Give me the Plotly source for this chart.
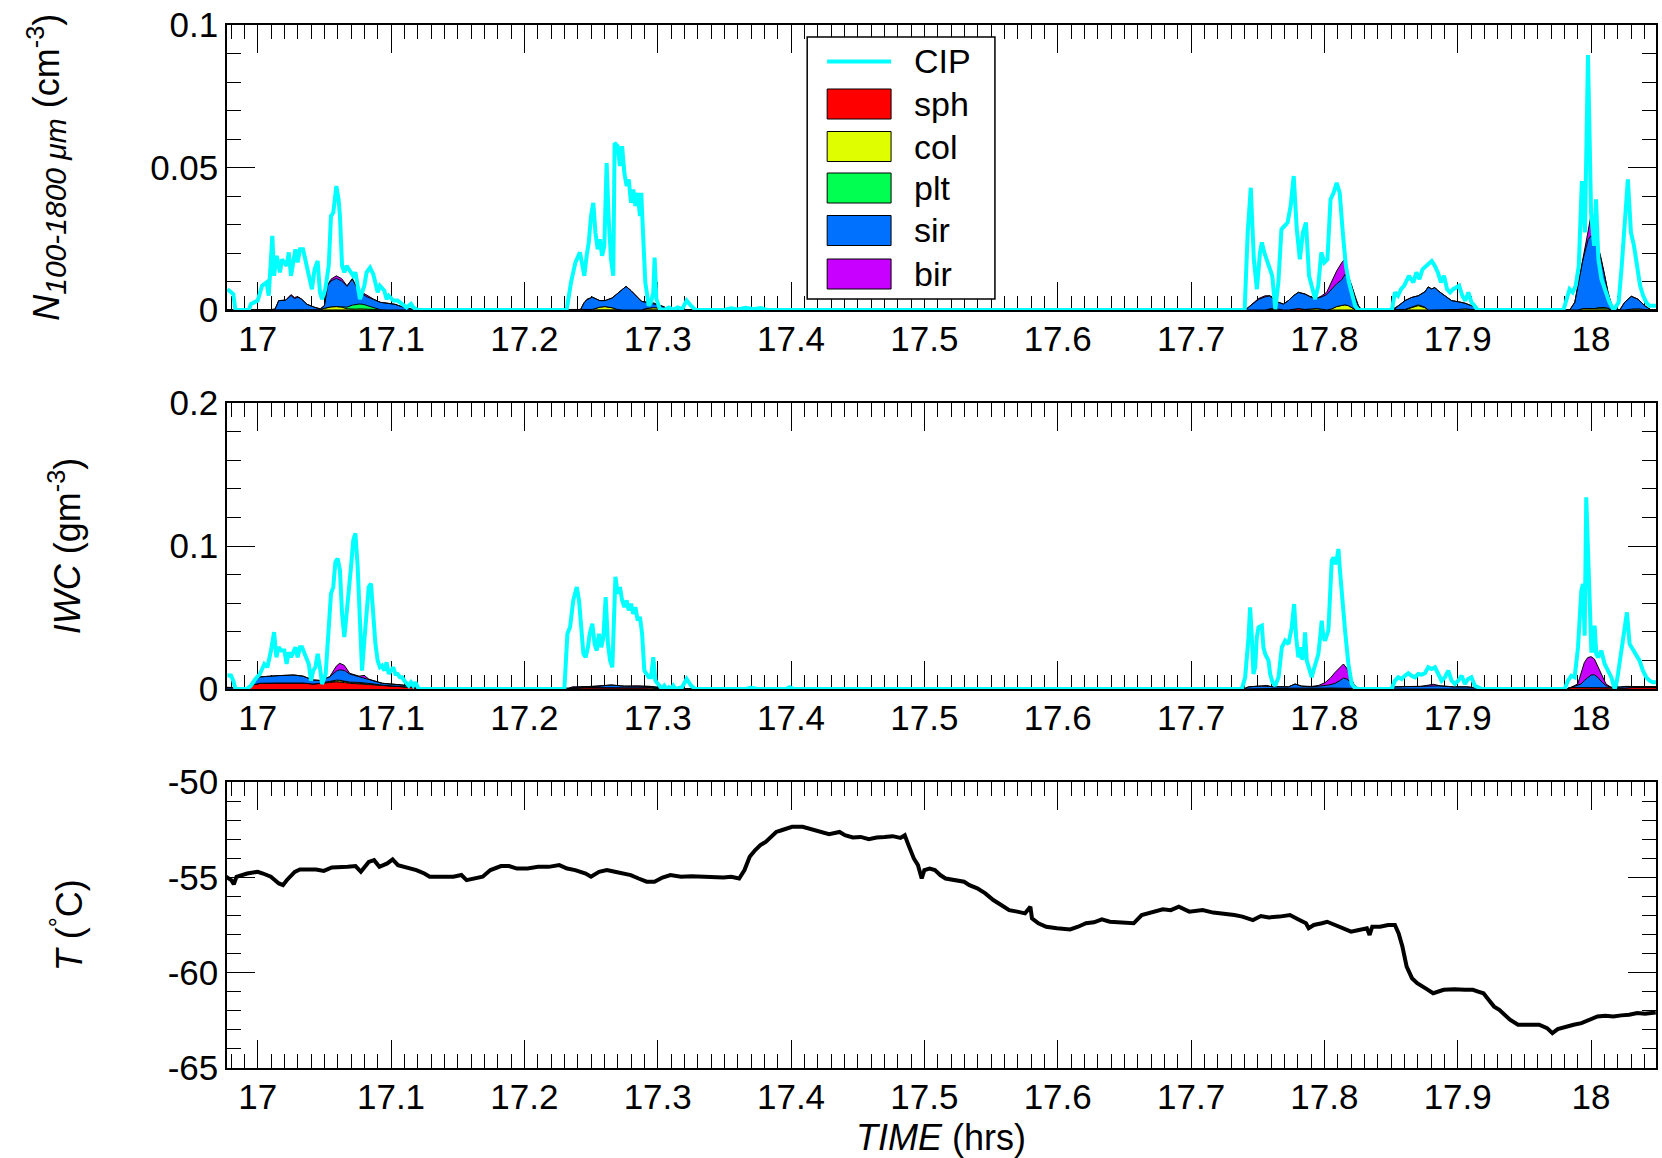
import plotly.graph_objects as go

# ---------------- time axis ----------------
T_START, T_END = 16.977, 18.0487

# ---------------- CIP number concentration N(100-1800 um), cm^-3 ----------------
N_CIP_TIME = [
    16.9773, 16.98, 16.9817, 16.9833, 16.9933, 16.995, 17.0, 17.0033, 17.0067, 17.0083,
    17.011, 17.0123, 17.0143, 17.0167, 17.0183, 17.0217, 17.0233, 17.025, 17.0283, 17.03,
    17.0317, 17.034, 17.036, 17.0383, 17.0407, 17.0427, 17.045, 17.0467, 17.0483, 17.0507,
    17.0533, 17.055, 17.0567, 17.059, 17.0607, 17.0617, 17.0633, 17.065, 17.0667, 17.0683,
    17.0717, 17.0733, 17.075, 17.0767, 17.0783, 17.08, 17.0817, 17.0843, 17.0867, 17.0883,
    17.09, 17.0917, 17.095, 17.0967, 17.0983, 17.1017, 17.105, 17.1083, 17.1117, 17.115,
    17.1167, 17.12,
    17.2317, 17.235, 17.2383, 17.2417, 17.2433, 17.245, 17.2467, 17.2483, 17.25, 17.2517,
    17.2533, 17.255, 17.2567, 17.2583, 17.26, 17.2617, 17.2633, 17.265, 17.2667, 17.2677,
    17.27, 17.2717, 17.2733, 17.275, 17.2767, 17.2783, 17.28, 17.2817, 17.2833, 17.285,
    17.2867, 17.2877, 17.289, 17.2907, 17.2933, 17.295, 17.2967, 17.2977, 17.299, 17.3017,
    17.305, 17.3083, 17.3117, 17.315, 17.3183, 17.3217, 17.325, 17.3283,
    17.35, 17.355, 17.36, 17.366, 17.372, 17.377, 17.382,
    17.7402, 17.7425, 17.7448, 17.7471, 17.7494, 17.7517, 17.7531, 17.7549, 17.7577, 17.7609,
    17.7632, 17.7655, 17.7678, 17.7701, 17.7724, 17.7747, 17.777, 17.7793, 17.7816, 17.7839,
    17.7862, 17.7885, 17.7908, 17.7931, 17.7954, 17.7977, 17.8, 17.8023, 17.8046, 17.8069,
    17.8092, 17.8115, 17.8138, 17.8161, 17.8184, 17.8207, 17.823, 17.8253,
    17.8506, 17.8529, 17.8552, 17.8575, 17.8598, 17.8634, 17.8667, 17.869, 17.8713, 17.8736,
    17.8782, 17.8805, 17.8828, 17.8851, 17.8874, 17.8897, 17.892, 17.8943, 17.8966, 17.9011,
    17.9034, 17.9057, 17.908, 17.9103, 17.9126, 17.9149,
    17.9793, 17.9816, 17.9839, 17.9862, 17.9885, 17.9908, 17.9931, 17.9954, 17.9977, 18.0,
    18.0023, 18.0037, 18.0055, 18.0078, 18.0106, 18.0138, 18.017, 18.0207, 18.023, 18.0253,
    18.0276, 18.0299, 18.0322, 18.0345, 18.0368, 18.0391, 18.0414, 18.0437, 18.0487,
]
N_CIP = [
    0.0073, 0.0062, 0.0056, 0.0, 0.0, 0.0021, 0.0033, 0.0085, 0.0097, 0.005,
    0.026, 0.012, 0.019, 0.0132, 0.0178, 0.0155, 0.0202, 0.012, 0.0213, 0.0167,
    0.0213, 0.0213, 0.0167, 0.012, 0.0073, 0.0143, 0.0172, 0.0062, 0.0038, 0.0073,
    0.0155, 0.033, 0.0341, 0.0435, 0.0388, 0.033, 0.0155, 0.0132, 0.0155, 0.0143,
    0.012, 0.0132, 0.0073, 0.0038, 0.0062, 0.0085, 0.0132, 0.0149, 0.0126, 0.0097,
    0.0062, 0.0085, 0.0068, 0.0038, 0.005, 0.0033, 0.0033, 0.0021, 0.0009, 0.0021,
    0.0009, 0.0,
    0.0, 0.0097, 0.0167, 0.0202, 0.0155, 0.012, 0.019, 0.0237, 0.033, 0.0376,
    0.0272, 0.0213, 0.0248, 0.019, 0.0225, 0.0516, 0.0318, 0.0178, 0.012, 0.0586,
    0.0575, 0.0505, 0.0575, 0.0481, 0.0435, 0.0458, 0.0376, 0.0423, 0.0365, 0.0411,
    0.033, 0.0411, 0.0272, 0.0097, 0.0015, 0.0027, 0.0062, 0.0184, 0.0038, 0.0003,
    0.0, 0.0009, 0.0001, 0.0009, 0.0003, 0.0033, 0.0015, 0.0,
    0.0, 0.0006, 0.0002, 0.0008, 0.0003, 0.0007, 0.0,
    0.0, 0.0272, 0.0429, 0.0178, 0.0073, 0.0202, 0.0237, 0.0202, 0.0167, 0.012,
    0.0003, 0.0097, 0.0283, 0.0295, 0.0307, 0.0365, 0.047, 0.0283, 0.0178, 0.0272,
    0.0307, 0.012, 0.0073, 0.0038, 0.0085, 0.0202, 0.0167, 0.0178, 0.0388, 0.0411,
    0.0446, 0.0411, 0.0272, 0.0155, 0.0097, 0.005, 0.0015, 0.0,
    0.0, 0.0062, 0.005, 0.0073, 0.0085, 0.012, 0.0097, 0.0132, 0.0108, 0.0143,
    0.0161, 0.0172, 0.0155, 0.0132, 0.0097, 0.012, 0.0073, 0.0062, 0.0073, 0.0085,
    0.005, 0.0033, 0.0062, 0.0027, 0.0015, 0.0,
    0.0, 0.0038, 0.0073, 0.0062, 0.0085, 0.0155, 0.0452, 0.0272, 0.0895, 0.0341,
    0.0225, 0.0388, 0.0178, 0.0108, 0.0073, 0.0027, 0.0, 0.0027, 0.0155, 0.0318,
    0.0458, 0.0272, 0.0225, 0.0155, 0.0085, 0.005, 0.0027, 0.0015, 0.0015,
]

# ---------------- habit-resolved N, stacked (sph, col, plt, sir, bir) ----------------
N_STACK_TIME = [
    16.977, 17.0066, 17.013, 17.0158, 17.021, 17.025, 17.0276, 17.03, 17.033, 17.037,
    17.043, 17.047, 17.05, 17.0526, 17.055, 17.059, 17.063, 17.067, 17.071, 17.074,
    17.076, 17.079, 17.082, 17.087, 17.092, 17.097, 17.103, 17.108, 17.113, 17.118,
    17.242, 17.2447, 17.247, 17.251, 17.2566, 17.2605, 17.2658, 17.2697, 17.2737, 17.2763,
    17.28, 17.284, 17.288, 17.292, 17.297, 17.3026, 17.308, 17.3105,
    17.7406, 17.7456, 17.7506, 17.7556, 17.7593, 17.7618, 17.7655, 17.7693, 17.773, 17.7768,
    17.7805, 17.7855, 17.7905, 17.7943, 17.798, 17.8017, 17.8055, 17.8092, 17.813, 17.8155,
    17.818, 17.8205, 17.823, 17.8255, 17.828,
    17.8504, 17.8529, 17.8554, 17.8604, 17.8654, 17.8704, 17.8754, 17.8779, 17.8804, 17.8829,
    17.8854, 17.8904, 17.8954, 17.9004, 17.9054, 17.9104, 17.9154,
    17.984, 17.9878, 17.9903, 17.994, 17.9978, 17.9998, 18.0028, 18.0052, 18.0077, 18.0102,
    18.0127, 18.0152, 18.0177,
    18.0215, 18.0252, 18.0302, 18.0352, 18.0402, 18.0452, 18.0487,
]
N_SPH = [
    0, 0, 0, 0, 0, 0, 0, 0, 0, 0,
    0, 0, 0, 0, 0, 0, 0, 0, 0, 0,
    0, 0, 0, 0, 0, 0, 0, 0, 0, 0,
    0, 0, 0, 0, 0, 0, 0, 0, 0, 0,
    0, 0, 0, 0, 0, 0, 0, 0,
    0, 0, 0, 0, 0, 0, 0, 0, 0, 0.0002,
    0.0005, 0.0002, 0, 0, 0, 0, 0, 0, 0, 0,
    0, 0, 0, 0, 0,
    0, 0, 0, 0, 0, 0, 0, 0, 0, 0,
    0, 0, 0, 0, 0, 0, 0,
    0, 0, 0, 0, 0, 0, 0, 0, 0, 0,
    0, 0, 0,
    0, 0, 0, 0, 0, 0, 0,
]
N_COL = [
    0, 0, 0, 0, 0, 0, 0, 0, 0, 0,
    0, 0.0001, 0.0006, 0.0009, 0.0011, 0.0012, 0.001, 0.0004, 0.0002, 0.0003,
    0.0004, 0.0004, 0.0003, 0.0002, 0, 0, 0, 0, 0, 0,
    0, 0, 0, 0.0002, 0.001, 0.0012, 0.0008, 0.0002, 0, 0,
    0, 0, 0, 0.0006, 0.0008, 0.0007, 0.0002, 0,
    0, 0, 0, 0, 0.0004, 0.0005, 0.0003, 0, 0, 0,
    0, 0, 0.0003, 0.0005, 0.0003, 0, 0.0004, 0.0012, 0.0016, 0.0018,
    0.0015, 0.0008, 0.0002, 0, 0,
    0, 0, 0, 0, 0.0008, 0.0015, 0.0008, 0, 0, 0,
    0, 0, 0, 0.0002, 0.0004, 0.0002, 0,
    0, 0, 0, 0.0005, 0.0005, 0.0005, 0.0005, 0.0005, 0.0005, 0.0005,
    0.0004, 0, 0,
    0, 0, 0.0003, 0.0004, 0.0002, 0, 0,
]
N_PLT = [
    0, 0, 0, 0, 0, 0, 0, 0, 0, 0,
    0, 0, 0, 0, 0, 0, 0, 0.0006, 0.0015, 0.0018,
    0.0017, 0.0016, 0.0013, 0.0006, 0.0001, 0, 0, 0, 0, 0,
    0, 0, 0, 0, 0, 0, 0, 0, 0, 0,
    0, 0, 0, 0, 0, 0, 0, 0,
    0, 0, 0, 0, 0, 0, 0, 0, 0, 0,
    0, 0, 0, 0, 0, 0, 0, 0, 0, 0,
    0, 0, 0, 0, 0,
    0, 0, 0, 0.0002, 0.0002, 0.0003, 0.0002, 0, 0, 0,
    0, 0, 0, 0, 0, 0, 0,
    0, 0, 0, 0, 0, 0, 0, 0.0003, 0.0004, 0.0004,
    0.0002, 0, 0,
    0, 0, 0, 0, 0, 0, 0,
]
N_SIR = [
    0, 0, 0.0003, 0.0033, 0.0034, 0.0051, 0.004, 0.0045, 0.0038, 0.002,
    0.0009, 0.0003, 0.0009, 0.0078, 0.0091, 0.0099, 0.0092, 0.0073, 0.0092, 0.0059,
    0.0045, 0.0035, 0.003, 0.0029, 0.0026, 0.0024, 0.002, 0.0012, 0.0006, 0,
    0, 0.0025, 0.0036, 0.0043, 0.0023, 0.0021, 0.0034, 0.0054, 0.0073, 0.0083,
    0.0068, 0.005, 0.003, 0.0021, 0.0013, 0.0008, 0.0002, 0,
    0, 0.002, 0.0037, 0.0046, 0.0046, 0.0033, 0.0024, 0.0021, 0.0033, 0.0048,
    0.0057, 0.0054, 0.0041, 0.0036, 0.0043, 0.0054, 0.0071, 0.008, 0.009, 0.0107,
    0.0095, 0.0077, 0.0042, 0.0015, 0,
    0, 0.0004, 0.0013, 0.0031, 0.0034, 0.0032, 0.0054, 0.0081, 0.0074, 0.0079,
    0.0067, 0.005, 0.0033, 0.0027, 0.002, 0.0013, 0,
    0, 0.0027, 0.009, 0.0173, 0.0242, 0.0255, 0.0242, 0.0216, 0.0169, 0.0113,
    0.0056, 0.0021, 0,
    0, 0.0027, 0.0045, 0.0034, 0.0013, 0, 0,
]
N_BIR = [
    0, 0, 0, 0, 0.0001, 0.0003, 0.0004, 0.0002, 0, 0,
    0, 0, 0, 0.0003, 0.0006, 0.0009, 0.0008, 0.0002, 0.0001, 0,
    0.0002, 0.0005, 0.0004, 0.0001, 0, 0, 0, 0, 0, 0,
    0, 0, 0.0002, 0, 0, 0, 0, 0, 0, 0,
    0, 0, 0, 0, 0.0004, 0, 0, 0,
    0, 0, 0.0003, 0.0004, 0, 0, 0, 0, 0, 0,
    0, 0, 0, 0, 0.0004, 0.0008, 0.0025, 0.0045, 0.006, 0.0055,
    0.001, 0, 0, 0, 0,
    0, 0.0004, 0.0002, 0, 0, 0, 0, 0, 0, 0,
    0, 0, 0, 0, 0, 0, 0,
    0, 0, 0, 0, 0.003, 0.007, 0.003, 0, 0, 0,
    0, 0, 0,
    0, 0, 0, 0, 0, 0, 0,
]

# ---------------- CIP ice water content, g m^-3 ----------------
IWC_CIP_TIME = [
    16.9773, 16.98, 16.9817, 16.9833, 16.9917, 16.995, 16.9983, 17.0017, 17.005, 17.0073,
    17.01, 17.0123, 17.014, 17.0157, 17.0177, 17.02, 17.0217, 17.0233, 17.025, 17.0267,
    17.0283, 17.03, 17.0317, 17.0333, 17.035, 17.0367, 17.0383, 17.04, 17.0417, 17.0433,
    17.045, 17.0467, 17.0483, 17.051, 17.0533, 17.055, 17.0567, 17.0583, 17.06, 17.0617,
    17.0633, 17.065, 17.0667, 17.0683, 17.07, 17.0717, 17.0733, 17.075, 17.0767, 17.0783,
    17.08, 17.0817, 17.0833, 17.085, 17.0867, 17.0883, 17.09, 17.0917, 17.0933, 17.095,
    17.0967, 17.0983, 17.1, 17.1017, 17.1033, 17.105, 17.1067, 17.1083, 17.11, 17.1117,
    17.1133, 17.115, 17.1167, 17.1183, 17.12, 17.1217,
    17.23, 17.2323, 17.2343, 17.2367, 17.2393, 17.241, 17.2427, 17.2443, 17.246, 17.2477,
    17.249, 17.251, 17.2527, 17.2543, 17.256, 17.2577, 17.2593, 17.261, 17.2627, 17.2643,
    17.266, 17.2673, 17.2683, 17.27, 17.2717, 17.2733, 17.275, 17.2767, 17.2783, 17.28,
    17.2817, 17.2833, 17.285, 17.2867, 17.2883, 17.29, 17.2917, 17.2933, 17.295, 17.2967,
    17.2983, 17.3, 17.3017, 17.3033, 17.305, 17.3067, 17.3083, 17.31, 17.3117, 17.3133,
    17.3183, 17.3217, 17.325, 17.3283,
    17.366, 17.37, 17.375, 17.396, 17.399, 17.402,
    17.7381, 17.7406, 17.7431, 17.7443, 17.7456, 17.7468, 17.7481, 17.7493, 17.7506, 17.7531,
    17.7543, 17.7556, 17.7581, 17.7593, 17.7611, 17.7631, 17.7656, 17.7681, 17.7706, 17.7731,
    17.7755, 17.7773, 17.7788, 17.7805, 17.7818, 17.783, 17.7843, 17.7855, 17.7868, 17.788,
    17.7905, 17.7918, 17.793, 17.7955, 17.7968, 17.798, 17.7993, 17.8005, 17.803, 17.8043,
    17.8055, 17.8068, 17.808, 17.8092, 17.8105, 17.8117, 17.813, 17.8155, 17.818, 17.8205,
    17.823, 17.8255,
    17.8504, 17.8529, 17.8554, 17.8579, 17.8604, 17.8629, 17.8654, 17.8679, 17.8704, 17.8729,
    17.8754, 17.8779, 17.8804, 17.8829, 17.8854, 17.8879, 17.8904, 17.8929, 17.8954, 17.8979,
    17.9004, 17.9029, 17.9054, 17.9078, 17.9103, 17.9128, 17.9153, 17.9178,
    17.9802, 17.9827, 17.9852, 17.9877, 17.9902, 17.9927, 17.9939, 17.9952, 17.9964, 17.9977,
    17.9989, 18.0002, 18.0014, 18.0027, 18.0039, 18.0052, 18.0077, 18.0102, 18.0127, 18.0152,
    18.0177, 18.0189, 18.0202, 18.0227, 18.0252, 18.0269, 18.0289, 18.0314, 18.0339, 18.0364,
    18.0389, 18.0414, 18.0439, 18.0464, 18.0489,
]
IWC_CIP = [
    0.0094, 0.0094, 0.0058, 0.0, 0.0, 0.0023, 0.007, 0.0105, 0.0175, 0.0152,
    0.0269, 0.0398, 0.0222, 0.0292, 0.0269, 0.0269, 0.0175, 0.0257, 0.0222, 0.0257,
    0.0292, 0.0222, 0.0292, 0.0292, 0.0257, 0.0222, 0.0175, 0.0058, 0.0129, 0.0152,
    0.0246, 0.0152, 0.0035, 0.0105, 0.0456, 0.0667, 0.0713, 0.0889, 0.0912, 0.083,
    0.0526, 0.0363, 0.0526, 0.0667, 0.0854, 0.1041, 0.1088, 0.0854, 0.0386, 0.0129,
    0.0339, 0.0573, 0.0713, 0.0737, 0.0526, 0.0316, 0.0199, 0.0152, 0.0164, 0.0129,
    0.0187, 0.0105, 0.0129, 0.0152, 0.0105, 0.0105, 0.0082, 0.0082, 0.0058, 0.0035,
    0.0023, 0.0047, 0.0023, 0.0047, 0.0012, 0.0,
    0.0, 0.0386, 0.0433, 0.062, 0.0713, 0.062, 0.0386, 0.0246, 0.0222, 0.0292,
    0.0386, 0.0456, 0.0316, 0.0269, 0.0386, 0.0292, 0.0363, 0.0643, 0.0316, 0.0199,
    0.0152, 0.0526, 0.0784, 0.0667, 0.0713, 0.062, 0.0573, 0.062, 0.055, 0.0596,
    0.0526, 0.0573, 0.048, 0.0503, 0.0386, 0.0129, 0.0105, 0.0082, 0.0082, 0.0222,
    0.0058, 0.0035, 0.0023, 0.0, 0.0023, 0.0, 0.0012, 0.0, 0.0023, 0.0,
    0.0012, 0.007, 0.0023, 0.0,
    0.0, 0.0008, 0.0, 0.0, 0.0012, 0.0,
    0.0, 0.0082, 0.0361, 0.0571, 0.0361, 0.0105, 0.0152, 0.0361, 0.0431, 0.0443,
    0.0291, 0.0245, 0.0198, 0.0105, 0.0047, 0.0023, 0.0082, 0.0291, 0.0338, 0.0315,
    0.0431, 0.0594, 0.0361, 0.0221, 0.0291, 0.021, 0.0221, 0.0396, 0.0198, 0.0152,
    0.0082, 0.0128, 0.0175, 0.0245, 0.0361, 0.0478, 0.0361, 0.0338, 0.0408, 0.0664,
    0.0897, 0.0921, 0.0874, 0.0897, 0.0979, 0.0828, 0.0664, 0.0408, 0.0175, 0.0035,
    0.0007, 0.0,
    0.0, 0.0058, 0.0082, 0.007, 0.0093, 0.011, 0.0093, 0.0082, 0.0105, 0.01,
    0.011, 0.0152, 0.014, 0.0152, 0.0105, 0.0058, 0.0082, 0.0128, 0.0058, 0.0035,
    0.0058, 0.0093, 0.0035, 0.007, 0.0082, 0.0023, 0.0012, 0.0,
    0.0, 0.0058, 0.0093, 0.0082, 0.0291, 0.0688, 0.0734, 0.0373, 0.134, 0.0944,
    0.0618, 0.0268, 0.0268, 0.0443, 0.0245, 0.0221, 0.0268, 0.0175, 0.0128, 0.0082,
    0.0, 0.0035, 0.0105, 0.0268, 0.0408, 0.0536, 0.0315, 0.028, 0.0245, 0.0198,
    0.0128, 0.0082, 0.0058, 0.0047, 0.0047,
]

# ---------------- habit-resolved IWC, stacked (sph, col, plt, sir, bir) ----------------
IWC_STACK_TIME = [
    16.977, 16.986, 16.99, 16.9925, 16.997, 17.002, 17.0145, 17.027, 17.034, 17.0415,
    17.0465, 17.054, 17.059, 17.0615, 17.065, 17.069, 17.076, 17.08, 17.0835, 17.0935,
    17.106, 17.116, 17.123,
    17.232, 17.236, 17.245, 17.255, 17.265, 17.275, 17.285, 17.295, 17.303, 17.308,
    17.7394, 17.7431, 17.7506, 17.7569, 17.7606, 17.768, 17.773, 17.778, 17.783, 17.7906,
    17.7956, 17.8006, 17.8043, 17.8081, 17.8118, 17.8143, 17.8168, 17.8193, 17.8218, 17.8243,
    17.8268,
    17.849, 17.8518, 17.8618, 17.8718, 17.8818, 17.8868, 17.8968, 17.9068, 17.9143, 17.9168,
    17.9812, 17.985, 17.99, 17.9925, 17.995, 17.9975, 18.0, 18.0025, 18.005, 18.0075,
    18.0112, 18.015, 18.0175, 18.022, 18.026, 18.031, 18.04, 18.0487,
]
IWC_SPH = [
    0, 0, 0, 0.0002, 0.003, 0.004, 0.0042, 0.0045, 0.0042, 0.0035,
    0.0037, 0.0045, 0.005, 0.0049, 0.0045, 0.004, 0.0035, 0.0034, 0.003, 0.0024,
    0.0017, 0.0011, 0,
    0, 0.0005, 0.0007, 0.0008, 0.0008, 0.0008, 0.0008, 0.0006, 0.0003, 0,
    0, 0, 0, 0, 0, 0, 0.0005, 0.0006, 0.0005, 0,
    0, 0, 0, 0, 0, 0, 0, 0, 0, 0,
    0,
    0, 0, 0, 0, 0, 0, 0, 0, 0, 0,
    0, 0.001, 0.001, 0.001, 0.001, 0.001, 0.001, 0.001, 0.001, 0.001,
    0.001, 0.001, 0.0008, 0.0005, 0.0008, 0.001, 0.001, 0.001,
]
IWC_COL = [
    0, 0, 0, 0, 0, 0, 0, 0, 0, 0,
    0.0002, 0.0006, 0.0008, 0.0008, 0.0007, 0.0004, 0.0005, 0.0005, 0.0004, 0.0001,
    0, 0, 0,
    0, 0, 0.0003, 0, 0, 0, 0, 0.0004, 0, 0,
    0, 0, 0, 0.0003, 0.0004, 0.0003, 0, 0, 0, 0.0004,
    0.0004, 0.0004, 0.0004, 0.0004, 0.0004, 0.0004, 0.0004, 0.0003, 0.0002, 0,
    0,
    0, 0, 0.0004, 0.0003, 0, 0, 0.0003, 0.0004, 0, 0,
    0, 0, 0, 0, 0.0002, 0.0002, 0.0002, 0.0002, 0, 0,
    0, 0, 0, 0, 0, 0, 0, 0,
]
IWC_PLT = [
    0, 0, 0, 0, 0, 0, 0, 0, 0, 0,
    0, 0.0002, 0.0004, 0.0004, 0.0004, 0.0004, 0.0006, 0.0006, 0.0005, 0.0002,
    0, 0, 0,
    0, 0, 0, 0, 0, 0, 0, 0, 0, 0,
    0, 0, 0, 0, 0, 0, 0, 0, 0, 0.0002,
    0.0002, 0.0002, 0.0003, 0.0003, 0.0004, 0.0004, 0.0004, 0.0003, 0.0002, 0,
    0,
    0, 0, 0, 0, 0, 0, 0, 0, 0, 0,
    0, 0, 0, 0, 0, 0, 0, 0, 0, 0,
    0, 0, 0, 0, 0, 0, 0, 0,
]
IWC_SIR = [
    0.001, 0.0008, 0, 0.0003, 0.003, 0.0045, 0.0051, 0.0053, 0.0048, 0.0028,
    0.0021, 0.0032, 0.0063, 0.0073, 0.0074, 0.0057, 0.004, 0.003, 0.0024, 0.0013,
    0.0013, 0.0009, 0,
    0, 0.0005, 0.0005, 0.001, 0.002, 0.0012, 0.001, 0.0008, 0.0005, 0,
    0, 0.0015, 0.002, 0.0015, 0.0011, 0.0009, 0.001, 0.0029, 0.0015, 0.0009,
    0.0012, 0.0019, 0.0023, 0.0033, 0.0052, 0.0069, 0.0062, 0.0044, 0.0021, 0.001,
    0,
    0, 0.0015, 0.0013, 0.0014, 0.0023, 0.0022, 0.0012, 0.0011, 0.0008, 0,
    0, 0.0002, 0.0015, 0.0025, 0.0048, 0.0068, 0.0086, 0.0088, 0.0072, 0.0045,
    0.0013, 0.0002, 0.0004, 0.0009, 0.001, 0.0008, 0.0006, 0.0006,
]
IWC_BIR = [
    0.0002, 0, 0, 0, 0, 0, 0, 0, 0, 0,
    0, 0, 0.0035, 0.0046, 0.0035, 0.0005, 0.0004, 0.002, 0.0005, 0,
    0, 0, 0,
    0, 0.0005, 0, 0, 0, 0, 0.0004, 0, 0, 0,
    0, 0, 0, 0.0007, 0, 0, 0, 0, 0, 0.0003,
    0.0007, 0.002, 0.0045, 0.0077, 0.0095, 0.0098, 0.0075, 0.004, 0.0015, 0,
    0,
    0, 0, 0, 0, 0.001, 0, 0, 0, 0, 0,
    0, 0, 0.001, 0.007, 0.0126, 0.014, 0.0128, 0.011, 0.0081, 0.005,
    0.0012, 0, 0, 0, 0, 0, 0, 0,
]

# ---------------- static air temperature, deg C ----------------
TEMP_TIME = [
    16.9762, 16.9802, 16.9821, 16.9841, 16.9921, 17.0, 17.004, 17.0099, 17.0159, 17.019,
    17.0218, 17.0278, 17.0317, 17.0437, 17.0496, 17.0556, 17.0675, 17.0734, 17.0774, 17.0794,
    17.0833, 17.0873, 17.0913, 17.0972, 17.1012, 17.1052, 17.1111, 17.119, 17.125, 17.129,
    17.1468, 17.1528, 17.1567, 17.1627, 17.1687, 17.1746, 17.1825, 17.1885, 17.1944, 17.2024,
    17.2103, 17.2183, 17.2262, 17.2321, 17.2381, 17.246, 17.25, 17.256, 17.2619, 17.2679,
    17.2738, 17.2798, 17.2857, 17.2917, 17.2976, 17.3036, 17.3095, 17.3175, 17.3254, 17.3333,
    17.3413, 17.3492, 17.3552, 17.3611, 17.3651, 17.369, 17.373, 17.377, 17.381, 17.3849,
    17.3889, 17.3929, 17.3968, 17.4008, 17.4087, 17.4167, 17.4246,
    17.4285, 17.4364, 17.4404, 17.4463, 17.4523, 17.4583, 17.4642, 17.4702, 17.4762, 17.4821,
    17.4853, 17.4881, 17.4921, 17.4952, 17.498, 17.5, 17.504, 17.5079, 17.5119, 17.5159,
    17.5238, 17.5298, 17.5338, 17.5397, 17.5457, 17.5517, 17.5576, 17.5636, 17.5696, 17.5755,
    17.5795, 17.5807, 17.5855, 17.5914, 17.5994, 17.6093, 17.6153, 17.6212, 17.6272, 17.6331,
    17.6391, 17.649, 17.657, 17.663, 17.6709, 17.6789, 17.6848, 17.6908, 17.6987, 17.7087,
    17.7166, 17.7246, 17.7325, 17.7385, 17.7464, 17.7524, 17.7583, 17.7663, 17.7742, 17.7802,
    17.7862, 17.7882, 17.7921, 17.7981, 17.8021, 17.808, 17.814, 17.82, 17.8259, 17.8319,
    17.8339, 17.8359, 17.8418, 17.8478, 17.8529, 17.8557, 17.8585, 17.8617, 17.8657, 17.8696,
    17.8756, 17.8816, 17.8895, 17.8975, 17.9054, 17.9114, 17.9153, 17.9193, 17.9233, 17.9273,
    17.9312, 17.9352, 17.9392, 17.9452, 17.9531, 17.9611, 17.967, 17.971, 17.975, 17.9809,
    17.9869, 17.9928, 17.9988, 18.0048, 18.0107, 18.0167, 18.0227, 18.0286, 18.0346, 18.0405,
    18.0485,
]
TEMP = [
    -54.97, -55.15, -55.36, -54.97, -54.8, -54.71, -54.8, -54.97, -55.32, -55.41,
    -55.15, -54.71, -54.59, -54.59, -54.66, -54.48, -54.45, -54.41, -54.71, -54.54,
    -54.19, -54.1, -54.45, -54.27, -54.06, -54.36, -54.45, -54.62, -54.8, -54.97,
    -54.97, -54.88, -55.15, -55.06, -54.97, -54.62, -54.41, -54.41, -54.54, -54.54,
    -54.45, -54.45, -54.36, -54.54, -54.62, -54.8, -54.97, -54.71, -54.62, -54.71,
    -54.8, -54.88, -55.06, -55.23, -55.23, -55.01, -54.88, -54.97, -54.94, -54.97,
    -54.97, -55.01, -54.97, -55.06, -54.62, -53.92, -53.58, -53.31, -53.14, -52.88,
    -52.62, -52.53, -52.44, -52.35, -52.35, -52.49, -52.62,
    -52.74, -52.62, -52.79, -52.91, -52.88, -53.0, -52.91, -52.88, -52.84, -52.93,
    -52.79, -53.31, -54.01, -54.36, -55.06, -54.62, -54.54, -54.62, -54.88, -55.06,
    -55.15, -55.23, -55.41, -55.58, -55.84, -56.19, -56.45, -56.72, -56.8, -56.89,
    -56.54, -57.15, -57.41, -57.59, -57.67, -57.73, -57.59, -57.41, -57.36, -57.2,
    -57.33, -57.36, -57.41, -56.98, -56.85, -56.68, -56.72, -56.54, -56.8, -56.72,
    -56.85, -56.89, -56.98, -57.06, -57.24, -57.03, -57.1, -57.06, -56.98, -57.2,
    -57.41, -57.67, -57.5, -57.41, -57.33, -57.5, -57.67, -57.85, -57.76, -57.67,
    -58.02, -57.59, -57.59, -57.5, -57.5, -57.94, -58.63, -59.68, -60.29, -60.55,
    -60.81, -61.08, -60.9, -60.87, -60.9, -60.9, -60.99, -61.08, -61.43, -61.78,
    -61.95, -62.21, -62.47, -62.73, -62.73, -62.73, -62.91, -63.17, -62.96, -62.82,
    -62.73, -62.65, -62.47, -62.3, -62.26, -62.3, -62.24, -62.21, -62.12, -62.16,
    -62.09,
]

# ---------------- styling ----------------
FONT = "Liberation Sans, Arial, sans-serif"
TICK_SIZE = 35
TITLE_SIZE = 36
LEGEND_SIZE = 34
HABITS = ["sph", "col", "plt", "sir", "bir"]
HABIT_COLORS = ["#FF0000", "#DFFF00", "#00FF50", "#0070FF", "#C800FF"]
CIP_COLOR = "#00FFFF"

W, H = 1662, 1158
ML, MR, MT, MB = 227, 4, 25, 90
PW, PH = W - ML - MR, H - MT - MB


def px_x(p):
    return (p - ML) / PW


def px_y(p):
    return (H - MB - p) / PH


# panel boxes in pixels (top, bottom)
PANELS = [(25, 310), (403, 689), (782, 1068)]
domains = [[px_y(b), px_y(t)] for t, b in PANELS]

fig = go.Figure()

n_layers = [N_SPH, N_COL, N_PLT, N_SIR, N_BIR]
iwc_layers = [IWC_SPH, IWC_COL, IWC_PLT, IWC_SIR, IWC_BIR]

for name, color, vals in zip(HABITS, HABIT_COLORS, n_layers):
    fig.add_trace(go.Scatter(
        x=N_STACK_TIME, y=vals, name=name, stackgroup="n", mode="lines",
        line=dict(color="black", width=1), fillcolor=color,
        xaxis="x", yaxis="y", showlegend=False))
fig.add_trace(go.Scatter(
    x=N_CIP_TIME, y=N_CIP, name="CIP", mode="lines",
    line=dict(color=CIP_COLOR, width=4), xaxis="x", yaxis="y", showlegend=False))

for name, color, vals in zip(HABITS, HABIT_COLORS, iwc_layers):
    fig.add_trace(go.Scatter(
        x=IWC_STACK_TIME, y=vals, name=name, stackgroup="iwc", mode="lines",
        line=dict(color="black", width=1), fillcolor=color,
        xaxis="x2", yaxis="y2", showlegend=False))
fig.add_trace(go.Scatter(
    x=IWC_CIP_TIME, y=IWC_CIP, name="CIP", mode="lines",
    line=dict(color=CIP_COLOR, width=4), xaxis="x2", yaxis="y2", showlegend=False))

fig.add_trace(go.Scatter(
    x=TEMP_TIME, y=TEMP, name="T", mode="lines",
    line=dict(color="black", width=4), xaxis="x3", yaxis="y3", showlegend=False))

tickfont = dict(family=FONT, size=TICK_SIZE, color="black")


def frame_axis(**kw):
    base = dict(
        showline=True, linecolor="black", linewidth=1.5, mirror="allticks",
        ticks="inside", ticklen=28, tickwidth=1, tickcolor="black",
        showgrid=False, zeroline=False, tickfont=tickfont, layer="below traces",
    )
    base.update(kw)
    return base


x_common = dict(range=[T_START, T_END], tickmode="linear", tick0=17, dtick=0.1,
                ticklabelstandoff=-3,
                minor=dict(ticks="inside", ticklen=14, tickcolor="black", dtick=0.01, tick0=17,
                           showgrid=False))

fig.update_layout(
    width=W, height=H,
    margin=dict(l=ML, r=MR, t=MT, b=MB, pad=0),
    paper_bgcolor="white", plot_bgcolor="white",
    showlegend=False,
    font=dict(family=FONT, size=TICK_SIZE, color="black"),
    xaxis=frame_axis(domain=[0, 1], anchor="y", **x_common),
    xaxis2=frame_axis(domain=[0, 1], anchor="y2", **x_common),
    xaxis3=frame_axis(domain=[0, 1], anchor="y3", **x_common),
    yaxis=frame_axis(domain=domains[0], anchor="x", range=[0, 0.1],
                     tickmode="array", tickvals=[0, 0.05, 0.1], ticktext=["0", "0.05", "0.1"],
                     minor=dict(ticks="inside", ticklen=14, tickcolor="black",
                                tickmode="linear", tick0=0, dtick=0.01, showgrid=False)),
    yaxis2=frame_axis(domain=domains[1], anchor="x2", range=[0, 0.2],
                      tickmode="array", tickvals=[0, 0.1, 0.2], ticktext=["0", "0.1", "0.2"],
                      minor=dict(ticks="inside", ticklen=14, tickcolor="black",
                                 tickmode="linear", tick0=0, dtick=0.02, showgrid=False)),
    yaxis3=frame_axis(domain=domains[2], anchor="x3", range=[-65, -50],
                      tickmode="array", tickvals=[-65, -60, -55, -50],
                      ticktext=["-65", "-60", "-55", "-50"],
                      minor=dict(ticks="inside", ticklen=14, tickcolor="black",
                                 tickmode="linear", tick0=-65, dtick=1, showgrid=False)),
)

# axis titles
titles = [
    ("<i>N</i><sub><i><span style='font-size:30px'>100-1800 μm</span></i></sub>"
     " (cm<sup>-3</sup>)", 47, (PANELS[0][0] + PANELS[0][1]) / 2),
    ("<i>IWC</i> (gm<sup>-3</sup>)", 65, (PANELS[1][0] + PANELS[1][1]) / 2),
    ("<i>T</i> (<sup>°</sup>C)", 67, (PANELS[2][0] + PANELS[2][1]) / 2),
]
for text, xp, yp in titles:
    fig.add_annotation(text=text, xref="paper", yref="paper", x=px_x(xp), y=px_y(yp),
                       xanchor="center", yanchor="middle", textangle=-90, showarrow=False,
                       font=dict(family=FONT, size=TITLE_SIZE, color="black"))
fig.add_annotation(text="<i>TIME</i> (hrs)", xref="paper", yref="paper",
                   x=px_x(942), y=px_y(1137), xanchor="center", yanchor="middle",
                   showarrow=False, font=dict(family=FONT, size=TITLE_SIZE, color="black"))

# legend box drawn in the top panel
fig.add_shape(type="rect", xref="paper", yref="paper",
              x0=px_x(808), x1=px_x(996), y0=px_y(299), y1=px_y(37),
              line=dict(color="black", width=1.5), fillcolor="white", layer="above")
legend_rows = [61.5, 104, 146.5, 188, 230.5, 274]
fig.add_shape(type="line", xref="paper", yref="paper",
              x0=px_x(828), x1=px_x(892), y0=px_y(legend_rows[0]), y1=px_y(legend_rows[0]),
              line=dict(color=CIP_COLOR, width=4), layer="above")
for yc, color in zip(legend_rows[1:], HABIT_COLORS):
    fig.add_shape(type="rect", xref="paper", yref="paper",
                  x0=px_x(828), x1=px_x(892), y0=px_y(yc + 15), y1=px_y(yc - 15),
                  line=dict(color="black", width=1), fillcolor=color, layer="above")
for yc, label in zip(legend_rows, ["CIP"] + HABITS):
    fig.add_annotation(text=label, xref="paper", yref="paper", x=px_x(913), y=px_y(yc),
                       xanchor="left", yanchor="middle", showarrow=False,
                       font=dict(family=FONT, size=LEGEND_SIZE, color="black"))

fig.write_html("out.html")
